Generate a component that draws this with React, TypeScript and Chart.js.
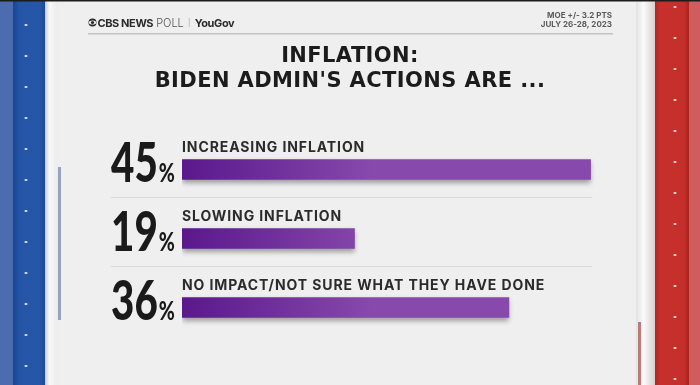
import { useEffect, useRef } from "react";
import { Chart, registerables } from "chart.js";

Chart.register(...registerables);

const categories = [
  "INCREASING INFLATION",
  "SLOWING INFLATION",
  "NO IMPACT/NOT SURE WHAT THEY HAVE DONE",
];
const values = [45, 19, 36];
const titleLines = ["INFLATION:", "BIDEN ADMIN'S ACTIONS ARE ..."];
const moeLines = ["MOE +/- 3.2 PTS", "JULY 26-28, 2023"];
const sourceBold = "CBS NEWS";
const sourceLight = "POLL";
const sourcePartner = "YouGov";

const backgroundPlugin = {
  id: "bgDecor",
  beforeDraw(chart: any) {
    const { ctx, width, height } = chart;
    ctx.save();
    ctx.fillStyle = "#efefef";
    ctx.fillRect(0, 0, width, height);

    // left blue band
    ctx.fillStyle = "#4c6cb0";
    ctx.fillRect(0, 0, 13, height);
    let g = ctx.createLinearGradient(13, 0, 45, 0);
    g.addColorStop(0, "#1b4491");
    g.addColorStop(0.2, "#2455a7");
    g.addColorStop(0.85, "#2556a8");
    g.addColorStop(1, "#1c4898");
    ctx.fillStyle = g;
    ctx.fillRect(13, 0, 32, height);
    g = ctx.createLinearGradient(45, 0, 58, 0);
    g.addColorStop(0, "#c6cddc");
    g.addColorStop(0.35, "#f8f8f8");
    g.addColorStop(1, "#ebebeb");
    ctx.fillStyle = g;
    ctx.fillRect(45, 0, 13, height);
    ctx.fillStyle = "#98a3c0";
    ctx.fillRect(58, 167, 3, 153);
    ctx.fillStyle = "rgba(255,255,255,0.85)";
    for (let y = 25; y < height; y += 31) {
      ctx.beginPath();
      ctx.ellipse(26, y, 1.6, 1.1, 0, 0, Math.PI * 2);
      ctx.fill();
    }

    // right red band
    g = ctx.createLinearGradient(636, 0, 655, 0);
    g.addColorStop(0, "#e2e2e2");
    g.addColorStop(0.4, "#fafafa");
    g.addColorStop(1, "#d9d0d0");
    ctx.fillStyle = g;
    ctx.fillRect(636, 0, 19, height);
    ctx.fillStyle = "#bb7a7a";
    ctx.fillRect(638, 322, 3, height - 322);
    g = ctx.createLinearGradient(655, 0, 689, 0);
    g.addColorStop(0, "#b42622");
    g.addColorStop(0.15, "#c7302c");
    g.addColorStop(0.85, "#c52f2b");
    g.addColorStop(1, "#a8221f");
    ctx.fillStyle = g;
    ctx.fillRect(655, 0, 34, height);
    ctx.fillStyle = "#cf5d5b";
    ctx.fillRect(689, 0, 11, height);
    ctx.fillStyle = "rgba(255,255,255,0.85)";
    for (let y = 7; y < height; y += 31) {
      ctx.beginPath();
      ctx.ellipse(675, y, 1.6, 1.1, 0, 0, Math.PI * 2);
      ctx.fill();
    }

    // top dark edge
    ctx.fillStyle = "#1c1c1c";
    ctx.fillRect(0, 0, width, 1.5);
    ctx.restore();
  },
};

const textPlugin = {
  id: "texts",
  beforeDatasetsDraw(chart: any) {
    const { ctx } = chart;
    const yScale = chart.scales.y;
    ctx.save();
    ctx.strokeStyle = "#dadada";
    ctx.lineWidth = 1;
    for (let i = 0; i < categories.length - 1; i++) {
      const y = Math.round(yScale.getPixelForValue(i) + 27) + 0.5;
      ctx.beginPath();
      ctx.moveTo(111, y);
      ctx.lineTo(592, y);
      ctx.stroke();
    }
    ctx.restore();
    ctx.save();
    ctx.shadowColor = "rgba(0,0,0,0.35)";
    ctx.shadowBlur = 5;
    ctx.shadowOffsetY = 3;
  },
  afterDatasetsDraw(chart: any) {
    chart.ctx.restore();
  },
  afterDraw(chart: any) {
    const { ctx } = chart;
    const xScale = chart.scales.x;
    const yScale = chart.scales.y;
    ctx.save();
    ctx.textBaseline = "alphabetic";

    // header: source
    ctx.fillStyle = "#2a2a2a";
    ctx.beginPath();
    ctx.arc(92.5, 22.5, 4, 0, Math.PI * 2);
    ctx.fill();
    ctx.fillStyle = "#efefef";
    ctx.beginPath();
    ctx.ellipse(92.5, 22.5, 3.6, 2, 0, 0, Math.PI * 2);
    ctx.fill();
    ctx.fillStyle = "#2a2a2a";
    ctx.beginPath();
    ctx.arc(92.5, 22.5, 1.6, 0, Math.PI * 2);
    ctx.fill();

    let x = 97.5;
    ctx.textAlign = "left";
    ctx.font = "bold 11px Inter";
    (ctx as any).letterSpacing = "-0.4px";
    ctx.fillText(sourceBold, x, 26.5);
    x += ctx.measureText(sourceBold).width + 3;
    ctx.font = "300 11px Inter";
    ctx.fillStyle = "#555555";
    (ctx as any).letterSpacing = "0px";
    ctx.fillText(sourceLight, x, 26.5);
    x += ctx.measureText(sourceLight).width + 5;
    ctx.fillStyle = "#b8b8b8";
    ctx.fillRect(x, 18, 0.8, 9);
    x += 6;
    ctx.fillStyle = "#2a2a2a";
    ctx.font = "bold 11px Inter";
    (ctx as any).letterSpacing = "-0.4px";
    ctx.fillText(sourcePartner, x, 26.5);

    // MOE
    (ctx as any).letterSpacing = "0px";
    ctx.textAlign = "right";
    ctx.fillStyle = "#5a5a5a";
    ctx.font = "bold 8px Inter";
    ctx.fillText(moeLines[0], 612, 18);
    ctx.fillText(moeLines[1], 612, 26.5);

    // header rule
    ctx.fillStyle = "#c2c2c2";
    ctx.fillRect(88, 33, 525, 1.5);

    // title
    ctx.textAlign = "center";
    ctx.fillStyle = "#1c1c1c";
    ctx.font = "bold 21px 'DejaVu Sans'";
    (ctx as any).letterSpacing = "0.4px";
    ctx.fillText(titleLines[0], 350, 61.5);
    ctx.fillText(titleLines[1], 350, 86.5);

    // category labels and percentages
    const left = xScale.getPixelForValue(0);
    for (let i = 0; i < categories.length; i++) {
      const yc = yScale.getPixelForValue(i);
      ctx.textAlign = "left";
      ctx.fillStyle = "#2b2b2b";
      ctx.font = "bold 14px Inter";
      (ctx as any).letterSpacing = "0.9px";
      ctx.fillText(categories[i], left, yc - 17.5);

      (ctx as any).letterSpacing = "0px";
      const num = String(values[i]);
      ctx.save();
      ctx.translate(left - 71, yc + 12);
      ctx.scale(0.72, 1);
      ctx.fillStyle = "#1a1a1a";
      ctx.font = "900 56px Lato";
      ctx.fillText(num, 0, 0);
      const w = ctx.measureText(num).width;
      ctx.font = "900 27px Lato";
      ctx.fillText("%", w + 1.5, 0);
      ctx.restore();
    }
    ctx.restore();
  },
};

export default function App() {
  const canvasRef = useRef<HTMLCanvasElement | null>(null);

  useEffect(() => {
    if (!canvasRef.current) return;
    const chart = new Chart(canvasRef.current, {
      type: "bar",
      data: {
        labels: categories,
        datasets: [
          {
            data: values,
            barThickness: 20,
            borderWidth: 0,
            backgroundColor: (c: any) => {
              const area = c.chart.chartArea;
              if (!area) return "#8548ab";
              const g = c.chart.ctx.createLinearGradient(area.left, 0, area.left + 190, 0);
              g.addColorStop(0, "#5a188c");
              g.addColorStop(1, "#8749ac");
              return g;
            },
          },
        ],
      },
      options: {
        indexAxis: "y",
        animation: false,
        responsive: false,
        events: [],
        layout: { padding: { left: 182, right: 64, top: 135, bottom: 43 } },
        plugins: {
          legend: { display: false },
          tooltip: { enabled: false },
          title: { display: false },
        },
        scales: {
          x: { min: 0, max: 50, display: false },
          y: { display: false },
        },
      },
      plugins: [backgroundPlugin, textPlugin],
    });
    return () => chart.destroy();
  }, []);

  return (
    <div style={{ position: "fixed", left: 0, top: 0, width: 700, height: 385 }}>
      <canvas ref={canvasRef} width={700} height={385} style={{ width: 700, height: 385, display: "block" }} />
    </div>
  );
}
